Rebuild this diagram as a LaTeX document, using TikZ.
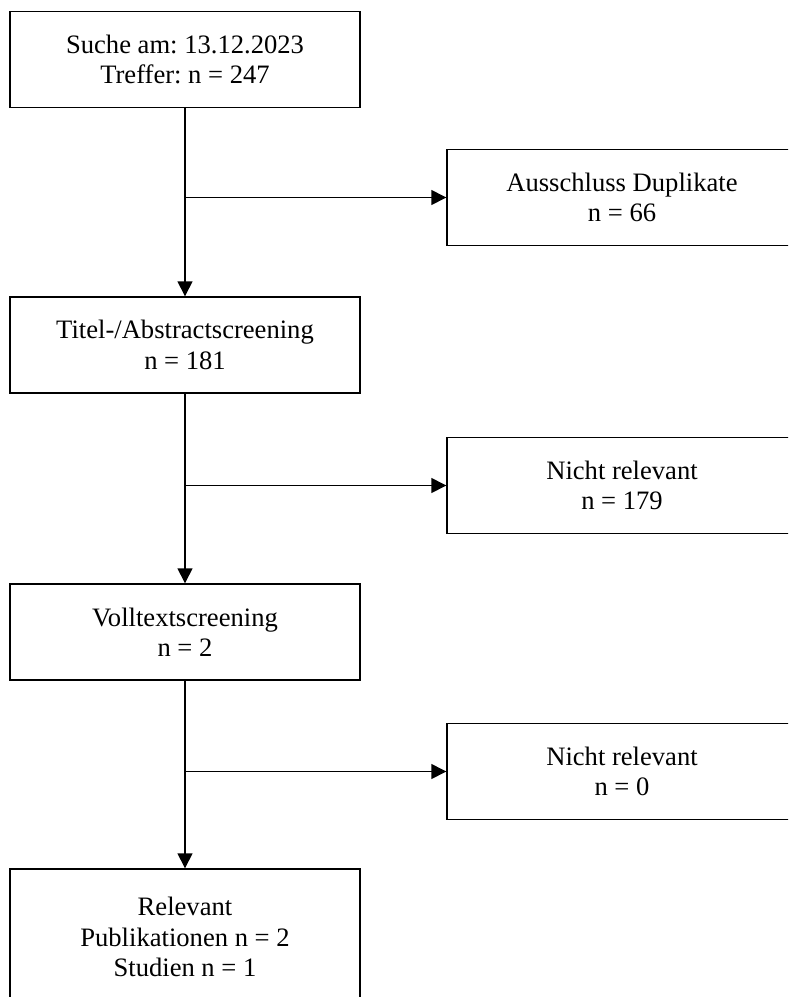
\documentclass[tikz,border=0pt]{standalone}
\usepackage{fontspec}
\setmainfont{Liberation Serif}
\usetikzlibrary{arrows.meta}
\frenchspacing
\begin{document}
\begin{tikzpicture}[x=0.5pt, y=-0.5pt,
    box/.style={draw, line width=0.7pt, minimum width=175pt, minimum height=48pt,
      align=center, inner sep=0pt, font=\fontsize{13.3}{15.2}\selectfont},
    flow/.style={line width=0.7pt, -{Triangle[length=7.5pt, width=7.5pt]}}]
    \clip (0, 0) rectangle (788, 997) ;
    \node[box] (search) at (185, 59.5) {Suche am: 13.12.2023\\Treffer: n = 247} ;
    \node[box] (dupl) at (622, 197.5) {Ausschluss Duplikate\\n = 66} ;
    \node[box] (title) at (185, 345) {Titel-/Abstractscreening\\n = 181} ;
    \node[box] (notrel1) at (622, 485.5) {Nicht relevant\\n = 179} ;
    \node[box] (full) at (185, 632) {Volltextscreening\\n = 2} ;
    \node[box] (notrel2) at (622, 771.5) {Nicht relevant\\n = 0} ;
    \node[box, minimum height=68pt] (rel) at (185, 937) {Relevant\\Publikationen n = 2\\Studien n = 1} ;
    \draw[flow] (search) -- (title) ;
    \draw[flow] (search |- dupl) -- (dupl) ;
    \draw[flow] (title) -- (full) ;
    \draw[flow] (title |- notrel1) -- (notrel1) ;
    \draw[flow] (full) -- (rel) ;
    \draw[flow] (full |- notrel2) -- (notrel2) ;
\end{tikzpicture}
\end{document}
